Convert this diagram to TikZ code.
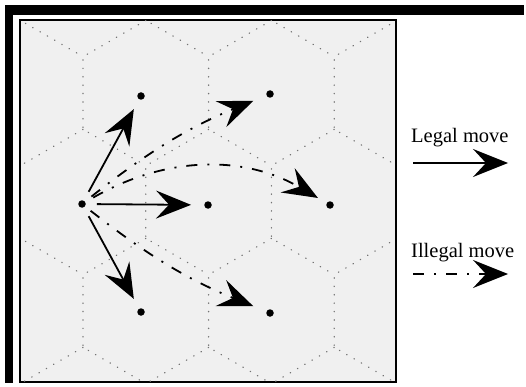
\documentclass[tikz,border=0pt]{standalone}
\usepackage{fontspec}
\setmainfont{Liberation Serif}
\usetikzlibrary{arrows.meta}

\begin{document}
\begin{tikzpicture}[
    x=1pt, y=-1pt,
    dot/.style={circle, fill=black, inner sep=0pt, minimum size=7.5pt},
    hexedge/.style={black!55, line width=1.3pt, line cap=round, dash pattern=on 0.4pt off 8pt},
    legal/.style={-{Stealth[length=35pt, width=28pt, inset=13pt]}, line width=1.8pt},
    illegal/.style={legal, dash pattern=on 11pt off 10pt on 2pt off 10pt},
    legend/.style={anchor=base west, inner sep=0pt, font=\fontsize{20.5}{24}\selectfont}
]
    \useasboundingbox (0,0) rectangle (526,387);

    % frame
    \fill (5,5) rectangle (524,15);
    \fill (5,5) rectangle (13,383);
    \draw[line width=2pt, fill=black!6] (20,20) rectangle (396,382);

    % hex grid
    \begin{scope}
        \clip (21,21) rectangle (395,381);
        \foreach \r/\off in {-1/83, 0/20.2, 1/83, 2/20.2, 3/83}
            \foreach \k in {-1,...,3} {
                \pgfmathsetmacro\cx{\off+125.6*\k}
                \pgfmathsetmacro\cy{93+109*\r}
                \draw[hexedge] (\cx,\cy-72.6) -- ++(-62.8,36.3) -- ++(0,72.6) -- ++(62.8,36.3);
            }
    \end{scope}

    % cells
    \node[dot] (src) at (82,204) {};
    \node[dot] (a1) at (141,96) {};
    \node[dot] (a2) at (270,94) {};
    \node[dot] (b2) at (208,205) {};
    \node[dot] (b3) at (330,205) {};
    \node[dot] (c1) at (141,312) {};
    \node[dot] (c2) at (270,313) {};

    % moves
    \draw[legal, shorten <=10pt, shorten >=11pt] (src) -- (a1);
    \draw[legal, shorten <=11pt, shorten >=13pt] (src) -- (b2);
    \draw[legal, shorten <=10pt, shorten >=11pt] (src) -- (c1);
    \draw[illegal, shorten <=8pt, shorten >=14pt] (src) to[bend left=8] (a2);
    \draw[illegal, shorten <=9pt, shorten >=10pt] (src) to[bend left=30] (b3);
    \draw[illegal, shorten <=7pt, shorten >=14pt] (src) to[bend right=8] (c2);

    % legend
    \node[legend] (legal) at (411,143) {Legal move};
    \node[legend] (illegal) at (411,257) {Illegal move};
    \coordinate (la) at (413,163);
    \coordinate (lb) at (508,163);
    \coordinate (ia) at (413,274);
    \coordinate (ib) at (508,274);
    \draw[legal] (la) -- (lb);
    \draw[illegal] (ia) -- (ib);
\end{tikzpicture}
\end{document}
